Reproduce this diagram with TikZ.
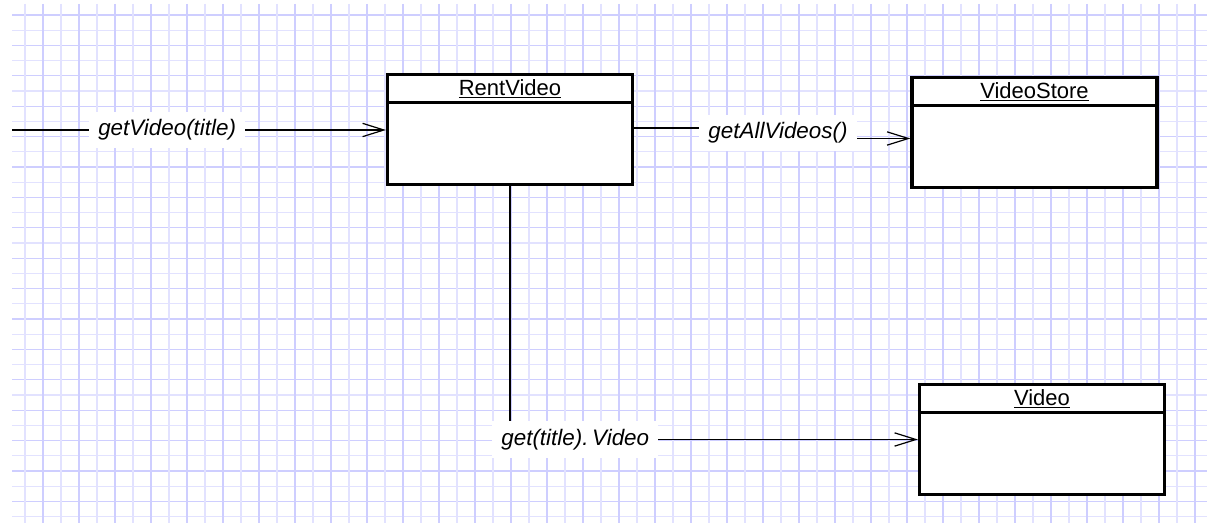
\documentclass[tikz,border=0pt]{standalone}
\usepackage{fontspec}
\setmainfont{Liberation Sans}
\usetikzlibrary{arrows.meta,calc}
\definecolor{gridlight}{RGB}{226,226,255}
\definecolor{griddark}{RGB}{206,206,255}
\begin{document}
\begin{tikzpicture}[x=0.75pt,y=-0.75pt,
  gridline/.style={line width=0.9pt},
  classbox/.style={draw=black,fill=white,line width=2.4pt,
    minimum width=183.75pt,minimum height=82.5pt,inner sep=0pt},
  classname/.style={font=\fontsize{16.5pt}{19pt}\selectfont,inner sep=0pt},
  divider/.style={draw=black,line width=2.2pt},
  conn/.style={draw=black,line width=1pt},
  msg/.style={conn,-{Straight Barb[length=16pt,width=10pt,line width=0.9pt]}},
  lbl/.style={fill=white,font=\fontsize{16.8pt}{19pt}\selectfont\itshape,
    inner xsep=7pt,inner ysep=6pt}]
  \useasboundingbox (0,0) rectangle (1207,523);
  \fill[white] (0,0) rectangle (1207,523);

  % squared paper background, alternating light and darker rules
  \foreach \i in {0,...,33}{
    \pgfmathsetmacro\gc{mod(\i,2)==0 ? "griddark" : "gridlight"}
    \draw[gridline,draw=\gc] (12,{15+15.2*\i}) -- (1207,{15+15.2*\i});
  }
  \foreach \i in {0,...,65}{
    \pgfmathsetmacro\gc{mod(\i,2)==1 ? "griddark" : "gridlight"}
    \draw[gridline,draw=\gc] ({25+18*\i},4) -- ({25+18*\i},523);
  }

  % classes
  \node[classbox] (rent)  at (510,129.5)  {};
  \node[classbox] (store) at (1034.5,132.5) {};
  \node[classbox] (video) at (1042,439.5) {};

  \foreach \c/\t in {rent/RentVideo,store/VideoStore,video/Video}{
    \node[classname] (\c-title) at ($(\c.north)+(0,16)$) {\underline{\t}};
    \draw[divider] ($(\c.north west)+(0,30)$) -- ($(\c.north east)+(0,30)$);
  }

  % messages
  \coordinate (src) at (12,130);
  \coordinate (bend) at (778,133);
  \draw[msg] (src) -- node[lbl,pos=0.415] (m1) {getVideo(title)} (rent.west |- src);
  \draw[msg] ($(rent.east)+(0,-1.5)$) -| (bend) |- ($(store.west)+(0,6)$);
  \node[lbl] (m2) at (bend) {getAllVideos()};
  \draw[msg] (rent.south) |- node[lbl,pos=0.58] (m3) {get(title).\,Video} (video.west);
\end{tikzpicture}
\end{document}
